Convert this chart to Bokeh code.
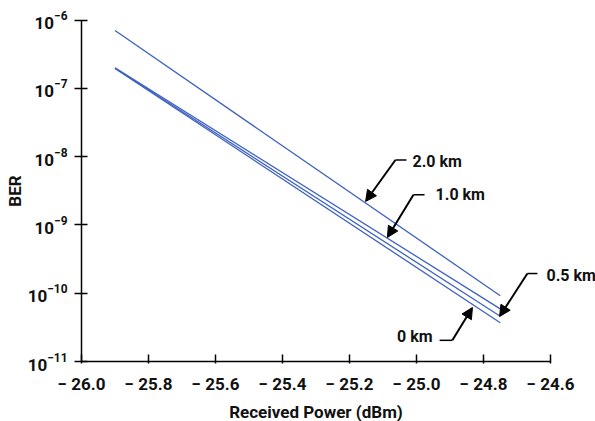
from bokeh.plotting import figure
from bokeh.models import (FixedTicker, CustomJSTickFormatter, Label, Arrow, NormalHead,
                          LinearAxis, LogAxis, Range1d)
from bokeh.embed import file_html
from bokeh.resources import INLINE

# ---- data ----
power_start = -25.9
power_end = -24.75
series_names = ["2.0 km", "1.0 km", "0.5 km", "0 km"]
ber_start = [7.0e-7, 2.0e-7, 1.97e-7, 1.95e-7]
ber_end = [9.2e-11, 5.9e-11, 4.6e-11, 3.7e-11]

x_ticks = [-26.0, -25.8, -25.6, -25.4, -25.2, -25.0, -24.8, -24.6]
y_ticks = [1e-11, 1e-10, 1e-9, 1e-8, 1e-7, 1e-6]

# annotation placement (data coords)
lab_text = ["2.0 km", "1.0 km", "0.5 km", "0 km"]
lab_x = [-25.012, -24.943, -24.612, -24.952]
lab_y = [10**-8.065, 10**-8.555, 10**-9.741, 10**-10.634]
lab_align = ["left", "left", "left", "right"]
dash_x0 = [-25.063, -25.009, -24.669, -24.931]
dash_x1 = [-25.030, -24.976, -24.639, -24.893]
dash_y = [10**-8.050, 10**-8.560, 10**-9.712, 10**-10.690]
elbow_x = [-25.063, -25.009, -24.669, -24.893]
tip_x = [-25.152, -25.087, -24.752, -24.833]
tip_y = [10**-8.657, 10**-9.184, 10**-10.341, 10**-10.209]

FONT = "Roboto"
LINE_COLOR = "#3f62c0"

W, H = 595, 421
PX_PER_DBM = 335.0      # horizontal scale of the frame
PX_PER_DECADE = 68.3    # vertical scale of the frame
X0_PX, Y_TOP_PX, Y_BOT_PX = 81, 19.5, 361   # where -26 dBm, 1e-6 and 1e-11 sit

x_range = Range1d(x_ticks[0] - X0_PX / PX_PER_DBM, x_ticks[0] + (W - X0_PX) / PX_PER_DBM)
y_range = Range1d(10 ** (-11 - (H - Y_BOT_PX) / PX_PER_DECADE),
                  10 ** (-6 + Y_TOP_PX / PX_PER_DECADE))

p = figure(width=W, height=H, x_range=x_range, y_range=y_range,
           y_axis_type="log", x_axis_location=None, y_axis_location=None,
           output_backend="svg", toolbar_location=None,
           min_border_left=0, min_border_right=0, min_border_top=0, min_border_bottom=0)
p.title.visible = False
p.outline_line_color = None
p.grid.grid_line_color = None
p.background_fill_color = "white"
p.border_fill_color = "white"

for i in range(len(series_names)):
    p.line([power_start, power_end], [ber_start[i], ber_end[i]],
           line_color=LINE_COLOR, line_width=1.3)

xaxis = LinearAxis(fixed_location=y_ticks[0], bounds=(x_ticks[0], x_ticks[-1]),
                   ticker=FixedTicker(ticks=x_ticks),
                   formatter=CustomJSTickFormatter(code="return '\u2212 ' + Math.abs(tick).toFixed(1);"),
                   axis_label="Received Power (dBm)")
yaxis = LogAxis(fixed_location=x_ticks[0], bounds=(y_ticks[0], y_ticks[-1]),
                ticker=FixedTicker(ticks=y_ticks), axis_label="BER")
p.add_layout(xaxis, "below")
p.add_layout(yaxis, "left")

xaxis.major_tick_in = 7
xaxis.major_tick_out = 2
yaxis.major_tick_in = 6
yaxis.major_tick_out = 7
for ax in (xaxis, yaxis):
    ax.minor_tick_line_color = None
    ax.axis_line_color = "black"
    ax.axis_line_width = 1.5
    ax.major_tick_line_width = 1.5
    ax.major_tick_line_color = "black"
    ax.major_label_text_font = FONT
    ax.major_label_text_font_style = "bold"
    ax.major_label_text_font_size = "17px"
    ax.major_label_text_color = "#111111"
    ax.axis_label_text_font = FONT
    ax.axis_label_text_font_style = "bold"
    ax.axis_label_text_font_size = "17px"
    ax.axis_label_text_color = "#111111"
xaxis.major_label_standoff = 10
xaxis.axis_label_standoff = 5
yaxis.major_label_standoff = 7
yaxis.axis_label_standoff = 0

# callouts
for i in range(len(lab_text)):
    p.add_layout(Label(x=lab_x[i], y=lab_y[i], text=lab_text[i], text_font=FONT,
                       text_font_style="bold", text_font_size="16px",
                       text_align=lab_align[i], text_baseline="middle",
                       text_color="#111111"))
    p.add_layout(Arrow(x_start=elbow_x[i], y_start=dash_y[i], x_end=tip_x[i], y_end=tip_y[i],
                       line_width=2, line_color="black",
                       end=NormalHead(size=11, fill_color="black", line_color="black")))

p.segment(x0=dash_x0, y0=dash_y, x1=dash_x1, y1=dash_y, line_color="black", line_width=1.5)

open("out.html", "w").write(file_html(p, INLINE))
